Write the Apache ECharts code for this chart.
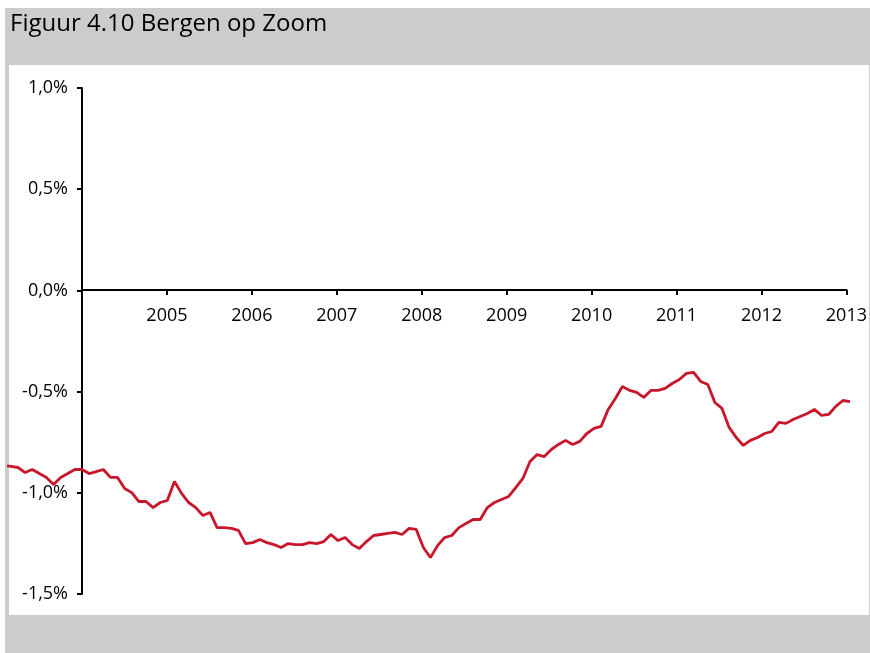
<!DOCTYPE html>
<html>
<head>
<meta charset="utf-8">
<script src="https://cdn.jsdelivr.net/npm/echarts@6/dist/echarts.min.js"></script>
<style>
  html, body { margin: 0; padding: 0; background: #fff; }
  #frame { position: absolute; left: 5px; top: 8px; width: 865px; height: 645px; background: #cccccc; }
  #panel { position: absolute; left: 9px; top: 65px; width: 860px; height: 550px; background: #fff; }
  #chart { position: absolute; left: 0; top: 0; width: 870px; height: 653px; }
</style>
</head>
<body>
<div id="frame"></div>
<div id="panel"></div>
<div id="chart"></div>
<script>
// first observation: february 2003, monthly
const startYear = 2003
const startMonth = 2
const baseYear = 2004

const yearTicks = [2005, 2006, 2007, 2008, 2009, 2010, 2011, 2012, 2013]

// Bergen op Zoom, %
const values = [
  -0.865, -0.870, -0.875, -0.900, -0.885, -0.905, -0.924, -0.959, -0.924, -0.905, -0.885,
  -0.885, -0.905, -0.895, -0.885, -0.924, -0.924, -0.979, -0.999, -1.043, -1.043, -1.073, -1.048,
  -1.038, -0.944, -1.003, -1.048, -1.073, -1.112, -1.097, -1.172, -1.172, -1.176, -1.186, -1.251,
  -1.246, -1.231, -1.246, -1.256, -1.270, -1.251, -1.256, -1.256, -1.246, -1.251, -1.241, -1.206,
  -1.236, -1.221, -1.256, -1.275, -1.241, -1.211, -1.206, -1.201, -1.196, -1.206, -1.176, -1.181,
  -1.270, -1.320, -1.261, -1.221, -1.211, -1.172, -1.152, -1.132, -1.132, -1.073, -1.048, -1.033,
  -1.018, -0.974, -0.929, -0.845, -0.811, -0.821, -0.786, -0.761, -0.741, -0.761, -0.746, -0.707,
  -0.682, -0.672, -0.588, -0.534, -0.475, -0.494, -0.504, -0.529, -0.494, -0.494, -0.484, -0.460,
  -0.440, -0.410, -0.405, -0.450, -0.465, -0.554, -0.583, -0.677, -0.727, -0.766, -0.741, -0.727,
  -0.707, -0.697, -0.652, -0.657, -0.638, -0.623, -0.608, -0.588, -0.618, -0.613, -0.573, -0.544,
  -0.549
]

// x = months since jan 2004
const offset = (startYear - baseYear) * 12 + (startMonth - 1)
const lineData = values.map((v, i) => [offset + i, v])

// layout: plot panel starts left of the value axis
const panelLeft = 9
const axisLeft = 82
const plotRight = 20
const plotTop = 88
const plotBottom = 59
const zeroY = 290
const xMax = (yearTicks[yearTicks.length - 1] - baseYear) * 12
const pxPerMonth = (870 - plotRight - axisLeft) / xMax
const xMinPanel = -(axisLeft - panelLeft) / pxPerMonth

const chart = echarts.init(document.getElementById('chart'))
const labelFont = { fontFamily: 'Open Sans', fontSize: 18, color: '#000' }
const blackLine = { color: '#000', width: 2 }

chart.setOption({
  animation: false,
  backgroundColor: 'transparent',
  title: {
    text: 'Figuur 4.10 Bergen op Zoom',
    left: 5,
    top: 7,
    textStyle: { fontFamily: 'Open Sans', fontSize: 24, fontWeight: 'normal', color: '#000' }
  },
  grid: [
    // line
    { left: panelLeft, right: plotRight, top: plotTop, bottom: plotBottom },
    // value axis
    { left: axisLeft, right: plotRight, top: plotTop, bottom: plotBottom },
    // year axis, sitting on 0%
    { left: axisLeft, right: plotRight, top: plotTop, height: zeroY - plotTop }
  ],
  xAxis: [
    { gridIndex: 0, type: 'value', min: xMinPanel, max: xMax, show: false },
    { gridIndex: 1, type: 'value', min: 0, max: xMax, show: false },
    {
      gridIndex: 2,
      type: 'value',
      min: 0,
      max: xMax,
      interval: 12,
      splitLine: { show: false },
      axisLine: { onZero: false, lineStyle: blackLine },
      axisTick: { show: true, length: 5, lineStyle: blackLine },
      axisLabel: Object.assign({}, labelFont, {
        margin: 17,
        showMaxLabel: true,
        formatter: (v) => (v === 0 ? '' : String(baseYear + v / 12))
      })
    }
  ],
  yAxis: [
    { gridIndex: 0, type: 'value', min: -1.5, max: 1.0, show: false },
    {
      gridIndex: 1,
      type: 'value',
      min: -1.5,
      max: 1.0,
      interval: 0.5,
      splitLine: { show: false },
      axisLine: { show: true, onZero: false, lineStyle: blackLine },
      axisTick: { show: true, length: 5, lineStyle: blackLine },
      axisLabel: Object.assign({}, labelFont, {
        margin: 14,
        formatter: (v) => v.toFixed(1).replace('.', ',') + '%'
      })
    },
    { gridIndex: 2, type: 'value', min: 0, max: 1, show: false }
  ],
  series: [
    {
      type: 'line',
      xAxisIndex: 0,
      yAxisIndex: 0,
      data: lineData,
      showSymbol: false,
      symbol: 'none',
      lineStyle: { color: '#c8172b', width: 2.8 },
      z: 3
    }
  ]
})
</script>
</body>
</html>
